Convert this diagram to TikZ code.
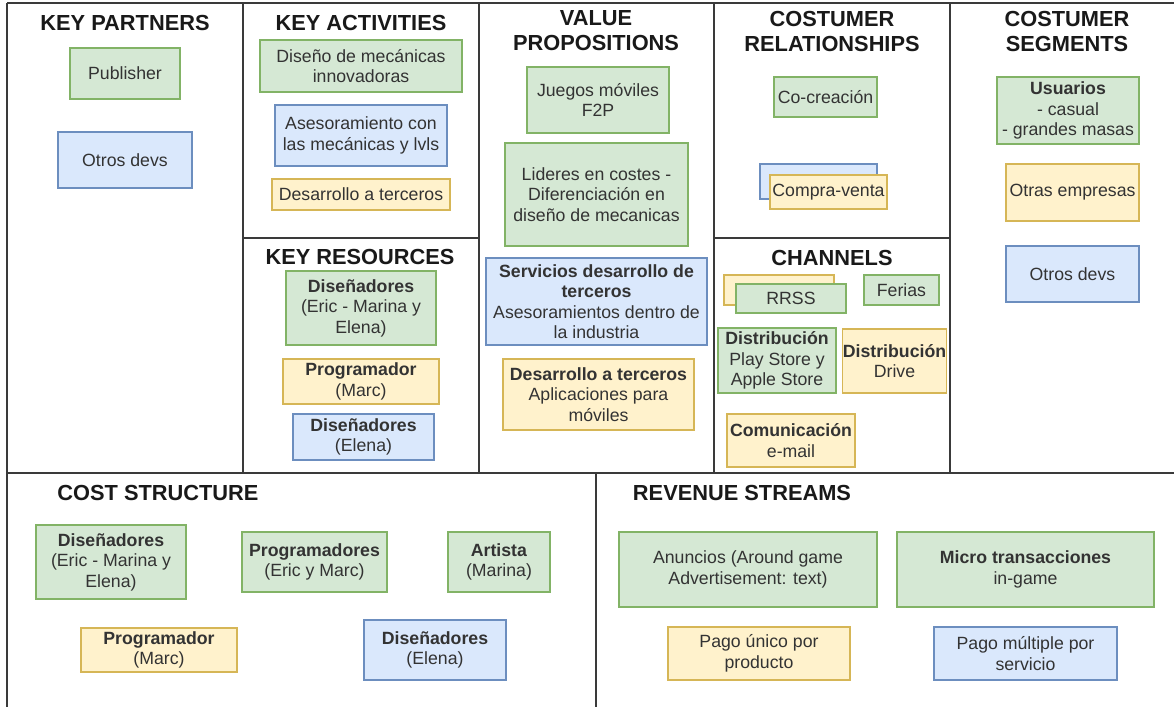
\documentclass[tikz,border=0pt]{standalone}
\usepackage{fontspec}
\setmainfont{Liberation Sans}
\definecolor{gfill}{HTML}{D5E8D4}\definecolor{gline}{HTML}{82B366}
\definecolor{bfill}{HTML}{DAE8FC}\definecolor{bline}{HTML}{6C8EBF}
\definecolor{yfill}{HTML}{FFF2CC}\definecolor{yline}{HTML}{D6B656}
\definecolor{frame}{HTML}{3A3A3A}
\newcommand{\bmcbox}[7]{\node[#1, minimum width={(#5-#3)*1pt}, minimum height={(#6-#4)*1pt}] (#2) at ({(#3+#5)/2},{(#4+#6)/2}) {#7};}
\tikzset{
  boxbase/.style={draw, line width=1.2pt, align=center, inner sep=0pt, text=black!80,
    font=\fontsize{17.7}{20.5}\selectfont},
  gbox/.style={boxbase, fill=gfill, draw=gline},
  bbox/.style={boxbase, fill=bfill, draw=bline},
  ybox/.style={boxbase, fill=yfill, draw=yline},
  ttl/.style={align=center, inner sep=0pt, text=black!90,
    font=\fontsize{21.8}{25}\selectfont\bfseries},
  frameline/.style={draw=frame, line width=1.6pt}
}
\begin{document}
\begin{tikzpicture}[x=1pt,y=-1pt]
\useasboundingbox (0,0) rectangle (1174,707);
% frame
\coordinate (tl) at (7,3); \coordinate (tr) at (1174,3);
\coordinate (ml) at (7,473); \coordinate (mr) at (1174,473);
\coordinate (bl) at (7,707);
\draw[frameline] (tl) -- (tr);
\draw[frameline] (tl) -- (bl);
\draw[frameline] (ml) -- (mr);
\foreach \xx in {243,479,714,950} \draw[frameline] (\xx,3) -- (\xx,473);
\draw[frameline] (243,238) -- (479,238);
\draw[frameline] (714,238) -- (950,238);
\draw[frameline] (596,473) -- (596,707);
% titles
\node[ttl] (tkp) at (125,23) {KEY PARTNERS};
\node[ttl] (tka) at (361,23) {KEY ACTIVITIES};
\node[ttl] (tvp) at (596,31) {VALUE\\PROPOSITIONS};
\node[ttl] (tcr) at (832,31) {COSTUMER\\RELATIONSHIPS};
\node[ttl] (tcs) at (1067,31) {COSTUMER\\SEGMENTS};
\node[ttl] (tkr) at (360,257) {KEY RESOURCES};
\node[ttl] (tch) at (832,258) {CHANNELS};
\node[ttl] (tcst) at (158,493) {COST STRUCTURE};
\node[ttl] (trs) at (742,493) {REVENUE STREAMS};
% key partners
\bmcbox{gbox}{kp1}{70}{48}{180}{99}{Publisher}
\bmcbox{bbox}{kp2}{58}{132}{192}{188}{Otros devs}
% key activities
\bmcbox{gbox}{ka1}{260}{40}{462}{92}{Diseño de mecánicas\\innovadoras}
\bmcbox{bbox}{ka2}{275}{105}{447}{166}{Asesoramiento con\\las mecánicas y lvls}
\bmcbox{ybox}{ka3}{272}{179}{450}{210}{Desarrollo a terceros}
% key resources
\bmcbox{gbox}{kr1}{286}{271}{436}{345}{\textbf{Diseñadores}\\(Eric - Marina y\\Elena)}
\bmcbox{ybox}{kr2}{283}{359}{439}{404}{\textbf{Programador}\\(Marc)}
\bmcbox{bbox}{kr3}{293}{414}{434}{460}{\textbf{Diseñadores}\\(Elena)}
% value propositions
\bmcbox{gbox}{vp1}{527}{67}{669}{133}{Juegos móviles\\F2P}
\bmcbox{gbox}{vp2}{505}{143}{688}{246}{Lideres en costes -\\Diferenciación en\\diseño de mecanicas}
\bmcbox{bbox}{vp3}{486}{258}{707}{345}{\textbf{Servicios desarrollo de}\\\textbf{terceros}\\Asesoramientos dentro de\\la industria}
\bmcbox{ybox}{vp4}{503}{359}{694}{430}{\textbf{Desarrollo a terceros}\\Aplicaciones para\\móviles}
% customer relationships
\bmcbox{gbox}{cr1}{774}{77}{877}{117}{Co-creación}
\bmcbox{bbox}{cr2}{760}{164}{877}{199}{}
\bmcbox{ybox}{cr3}{770}{175}{887}{209}{Compra-venta}
% channels
\bmcbox{ybox}{ch0}{724}{275}{834}{305}{}
\bmcbox{gbox}{ch1}{736}{284}{846}{313}{RRSS}
\bmcbox{gbox}{ch2}{864}{275}{939}{305}{Ferias}
\bmcbox{gbox}{ch3}{718}{328}{836}{393}{\textbf{Distribución}\\Play Store y\\Apple Store}
\bmcbox{ybox}{ch4}{844}{329}{945}{393}{\textbf{Distribución}\\Drive}
\bmcbox{ybox}{ch5}{727}{414}{855}{467}{\textbf{Comunicación}\\e-mail}
% customer segments
\bmcbox{gbox}{cs1}{997}{77}{1139}{144}{\textbf{Usuarios}\\- casual\\- grandes masas}
\bmcbox{ybox}{cs2}{1006}{164}{1139}{221}{Otras empresas}
\bmcbox{bbox}{cs3}{1006}{246}{1139}{302}{Otros devs}
% cost structure
\bmcbox{gbox}{c1}{36}{525}{186}{599}{\textbf{Diseñadores}\\(Eric - Marina y\\Elena)}
\bmcbox{gbox}{c2}{242}{532}{387}{592}{\textbf{Programadores}\\(Eric y Marc)}
\bmcbox{gbox}{c3}{448}{532}{550}{592}{\textbf{Artista}\\(Marina)}
\bmcbox{ybox}{c4}{81}{628}{237}{672}{\textbf{Programador}\\(Marc)}
\bmcbox{bbox}{c5}{364}{620}{506}{680}{\textbf{Diseñadores}\\(Elena)}
% revenue streams
\bmcbox{gbox}{r1}{619}{532}{877}{607}{Anuncios (Around game\\Advertisement: text)}
\bmcbox{gbox}{r2}{897}{532}{1154}{607}{\textbf{Micro transacciones}\\in-game}
\bmcbox{ybox}{r3}{668}{627}{850}{680}{Pago único por\\producto}
\bmcbox{bbox}{r4}{934}{627}{1117}{680}{Pago múltiple por\\servicio}
\end{tikzpicture}
\end{document}
